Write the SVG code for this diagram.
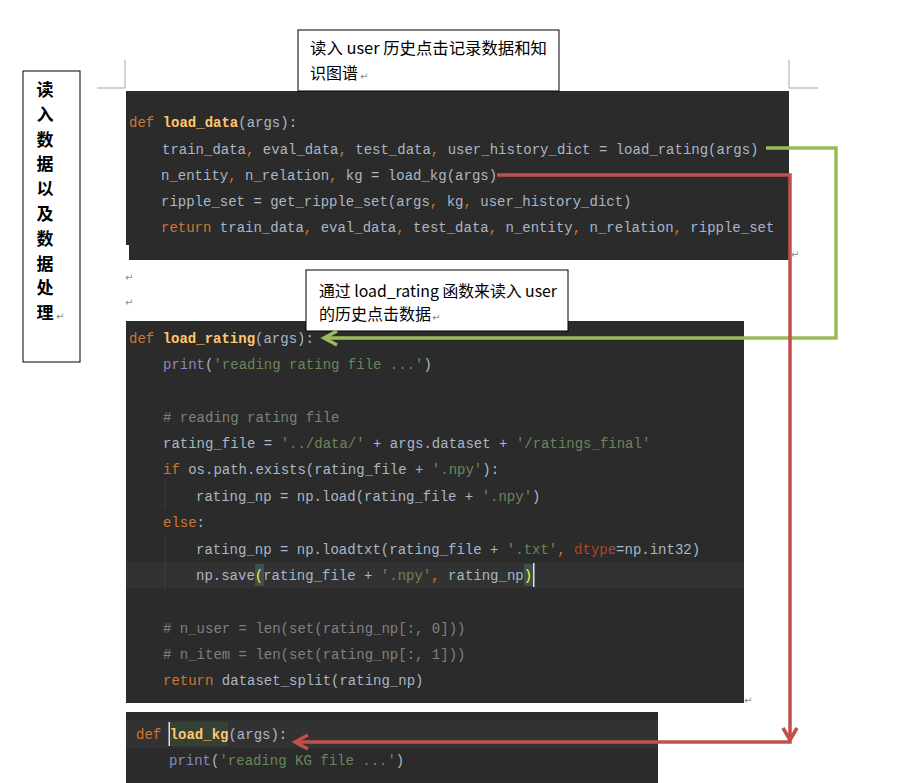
<svg xmlns="http://www.w3.org/2000/svg" width="898" height="783" viewBox="0 0 898 783">
<style>
.code{font-family:"Liberation Mono","DejaVu Sans Mono",monospace;font-size:14px;fill:#a9b7c6}
.kw{fill:#cc7832}
.fn{fill:#ffc66d;font-weight:bold}
.str{fill:#6a8759}
.cm{fill:#808080}
.bi{fill:#8888c6}
.kwa{fill:#aa4926}
.bg{fill:#2b2b2b}
.note{font-family:"Noto Sans CJK SC","Liberation Sans",sans-serif;font-size:16px;fill:#000}
.pm{font-family:"DejaVu Sans",sans-serif;font-size:10px;fill:#8a8a8a}
.box{fill:#fff;stroke:#000;stroke-width:1}
.corner{fill:none;stroke:#a6a6a6;stroke-width:1}
.green{fill:none;stroke:#9bbb59;stroke-width:3.5;stroke-linejoin:miter}
.red{fill:none;stroke:#c0504d;stroke-width:3.5;stroke-linejoin:miter}
</style>
<rect width="898" height="783" fill="#fff"/>

<g id="page-corners">
<path class="corner" d="M125,60 V88 H97"/>
<path class="corner" d="M789,60 V88 H818"/>
</g>

<g id="label-box">
<rect class="box" x="23" y="71" width="57" height="291"/>
<g font-family="'Noto Sans CJK SC',sans-serif" font-size="17" font-weight="bold" text-anchor="middle" fill="#000">
<text x="45" y="96">读</text>
<text x="45" y="120.8">入</text>
<text x="45" y="145.6">数</text>
<text x="45" y="170.4">据</text>
<text x="45" y="195.2">以</text>
<text x="45" y="220">及</text>
<text x="45" y="244.8">数</text>
<text x="45" y="269.6">据</text>
<text x="45" y="294.4">处</text>
<text x="45" y="319.2">理</text>
</g>
<text class="pm" x="56" y="320">↵</text>
</g>

<g id="code-load-data">
<rect class="bg" x="126" y="91" width="663" height="169"/>
<rect x="126" y="245" width="3" height="15" fill="#fff"/>
<text class="code" x="129" y="127"><tspan class="kw">def</tspan> <tspan class="fn">load_data</tspan>(args):</text>
<text class="code" x="162" y="154">train_data<tspan class="kw">,</tspan> eval_data<tspan class="kw">,</tspan> test_data<tspan class="kw">,</tspan> user_history_dict = load_rating(args)</text>
<text class="code" x="161" y="180">n_entity<tspan class="kw">,</tspan> n_relation<tspan class="kw">,</tspan> kg = load_kg(args)</text>
<text class="code" x="161" y="206">ripple_set = get_ripple_set(args<tspan class="kw">,</tspan> kg<tspan class="kw">,</tspan> user_history_dict)</text>
<text class="code" x="161" y="232"><tspan class="kw">return</tspan> train_data<tspan class="kw">,</tspan> eval_data<tspan class="kw">,</tspan> test_data<tspan class="kw">,</tspan> n_entity<tspan class="kw">,</tspan> n_relation<tspan class="kw">,</tspan> ripple_set</text>
</g>

<g id="para-marks">
<text class="pm" x="791" y="258">↵</text>
<text class="pm" x="125" y="281">↵</text>
<text class="pm" x="125" y="306">↵</text>
<text class="pm" x="744" y="704">↵</text>
</g>

<g id="note-load-data">
<rect class="box" x="298" y="30" width="261" height="61"/>
<text class="note" x="310" y="54" textLength="237" lengthAdjust="spacingAndGlyphs">读入 user 历史点击记录数据和知</text>
<text class="note" x="310" y="79">识图谱</text>
<text class="pm" x="360" y="80">↵</text>
</g>

<g id="code-load-rating">
<rect class="bg" x="126" y="321" width="618" height="382"/>
<rect x="126" y="562" width="618" height="26" fill="#323232"/>
<rect x="255" y="564" width="9" height="22" fill="#3b514d"/>
<rect x="524" y="564" width="9" height="22" fill="#3b514d"/>
<rect x="533" y="563" width="1.5" height="24" fill="#e0e0e0"/>
<path d="M165,481 V509 M165,535 V590" stroke="#3c3c3c" stroke-width="1"/>
<text class="code" x="129" y="343"><tspan class="kw">def</tspan> <tspan class="fn">load_rating</tspan>(args):</text>
<text class="code" x="163" y="369"><tspan class="bi">print</tspan>(<tspan class="str">'reading rating file ...'</tspan>)</text>
<text class="code cm" x="163" y="422"># reading rating file</text>
<text class="code" x="163" y="448">rating_file = <tspan class="str">'../data/'</tspan> + args.dataset + <tspan class="str">'/ratings_final'</tspan></text>
<text class="code" x="163" y="474"><tspan class="kw">if</tspan> os.path.exists(rating_file + <tspan class="str">'.npy'</tspan>):</text>
<text class="code" x="196" y="501">rating_np = np.load(rating_file + <tspan class="str">'.npy'</tspan>)</text>
<text class="code" x="163" y="527"><tspan class="kw">else</tspan>:</text>
<text class="code" x="196" y="554">rating_np = np.loadtxt(rating_file + <tspan class="str">'.txt'</tspan><tspan class="kw">,</tspan> <tspan class="kwa">dtype</tspan>=np.int32)</text>
<text class="code" x="196" y="580">np.save<tspan fill="#ffef28">(</tspan>rating_file + <tspan class="str">'.npy'</tspan><tspan class="kw">,</tspan> rating_np<tspan fill="#ffef28">)</tspan></text>
<text class="code cm" x="163" y="633"># n_user = len(set(rating_np[:, 0]))</text>
<text class="code cm" x="163" y="659"># n_item = len(set(rating_np[:, 1]))</text>
<text class="code" x="163" y="685"><tspan class="kw">return</tspan> dataset_split(rating_np)</text>
</g>

<g id="note-load-rating">
<rect class="box" x="306" y="270" width="262" height="61"/>
<text class="note" x="319" y="297" textLength="238" lengthAdjust="spacingAndGlyphs">通过 load_rating 函数来读入 user</text>
<text class="note" x="319" y="320">的历史点击数据</text>
<text class="pm" x="432" y="321">↵</text>
</g>

<g id="code-load-kg">
<rect class="bg" x="126" y="712" width="532" height="71"/>
<rect x="126" y="720" width="532" height="28" fill="#323232"/>
<rect x="169" y="722" width="59" height="24" fill="#344134"/>
<rect x="168.5" y="722" width="1.5" height="24" fill="#e0e0e0"/>
<text class="code" x="136" y="739"><tspan class="kw">def</tspan> <tspan class="fn">load_kg</tspan>(args):</text>
<text class="code" x="169" y="765"><tspan class="bi">print</tspan>(<tspan class="str">'reading KG file ...'</tspan>)</text>
</g>

<g id="connectors">
<path class="green" d="M766,148 H836 V338 H325"/>
<polyline class="green" points="337,331 324,338 337,345"/>
<path class="red" d="M497,175 H790 V742 H296"/>
<polyline class="red" points="308,735 295,742 308,749"/>
<polyline class="red" points="783,728 790,740 797,728"/>
</g>
</svg>
